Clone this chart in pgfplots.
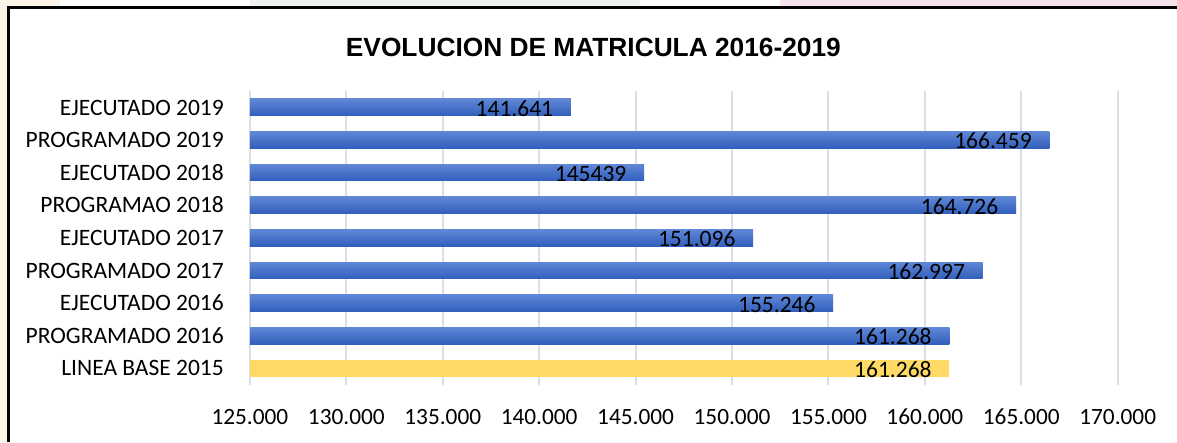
\documentclass[border=0pt]{standalone}
\usepackage{pgfplots}
\pgfplotsset{compat=1.18}
\usepackage{fontspec}
\setmainfont{Carlito}
\newfontfamily\titlefont{Liberation Sans}
\definecolor{gridc}{RGB}{217,222,232}
\definecolor{bartop}{RGB}{95,135,214}
\definecolor{barbot}{RGB}{50,95,188}
\definecolor{baseyel}{RGB}{255,217,102}
\pgfplotsset{bluebar/.style={draw=none, top color=bartop, bottom color=barbot}}
\begin{document}
\begin{tikzpicture}[x=1pt,y=1pt]
\useasboundingbox (0,0) rectangle (1177,442);
% faint background remnants above / left of the frame
\fill[color={rgb,255:red,252;green,244;blue,230}] (0,0) rectangle (6.5,442);
\fill[color={rgb,255:red,252;green,244;blue,230}] (0,436) rectangle (60,442);
\fill[color={rgb,255:red,236;green,243;blue,240}] (250,436) rectangle (640,442);
\fill[color={rgb,255:red,246;green,226;blue,236}] (780,436) rectangle (1177,442);
\draw[line width=3pt, black] (8,0) -- (8,434.5) -- (1177,434.5);
\node[anchor=base, inner sep=0pt, font=\titlefont\bfseries\fontsize{26.3}{30}\selectfont] at (593.4,385.3) {EVOLUCION DE MATRICULA 2016-2019};
\begin{axis}[
  at={(249.9pt,57.4pt)}, anchor=south west,
  scale only axis, width=867.8pt, height=293.6pt,
  xmin=125000, xmax=170000, ymin=0.5, ymax=9.5,
  xtick={125000,130000,135000,140000,145000,150000,155000,160000,165000,170000},
  xticklabels={125.000,130.000,135.000,140.000,145.000,150.000,155.000,160.000,165.000,170.000},
  ytick={1,2,3,4,5,6,7,8,9},
  yticklabels={LINEA BASE 2015,PROGRAMADO 2016,EJECUTADO 2016,PROGRAMADO 2017,EJECUTADO 2017,PROGRAMAO 2018,EJECUTADO 2018,PROGRAMADO 2019,EJECUTADO 2019},
  major tick length=0pt,
  axis line style={draw=none},
  xmajorgrids, major grid style={gridc, line width=2pt},
  xticklabel style={anchor=base, yshift=-39.7pt, inner sep=0pt, font=\fontsize{23.3}{27}\selectfont},
  yticklabel style={anchor=base east, xshift=-25.9pt, yshift=-7.7pt, inner sep=0pt, font=\fontsize{23.5}{27}\selectfont},
  xbar, bar width=16.7pt, bar shift=0pt,
  point meta=explicit symbolic,
  nodes near coords={\pgfplotspointmeta},
  every node near coord/.append style={anchor=base east, xshift=-17.5pt, yshift=-9pt, inner sep=0pt, black, font=\fontsize{23.5}{27}\selectfont},
]
\addplot[bluebar] coordinates {(141641,9) [141.641]};
\addplot[bluebar] coordinates {(166459,8) [166.459]};
\addplot[bluebar] coordinates {(145439,7) [145439]};
\addplot[bluebar] coordinates {(164726,6) [164.726]};
\addplot[bluebar] coordinates {(151096,5) [151.096]};
\addplot[bluebar] coordinates {(162997,4) [162.997]};
\addplot[bluebar] coordinates {(155246,3) [155.246]};
\addplot[bluebar] coordinates {(161268,2) [161.268]};
\addplot[draw=none, fill=baseyel] coordinates {(161268,1) [161.268]};
\end{axis}
\end{tikzpicture}
\end{document}
